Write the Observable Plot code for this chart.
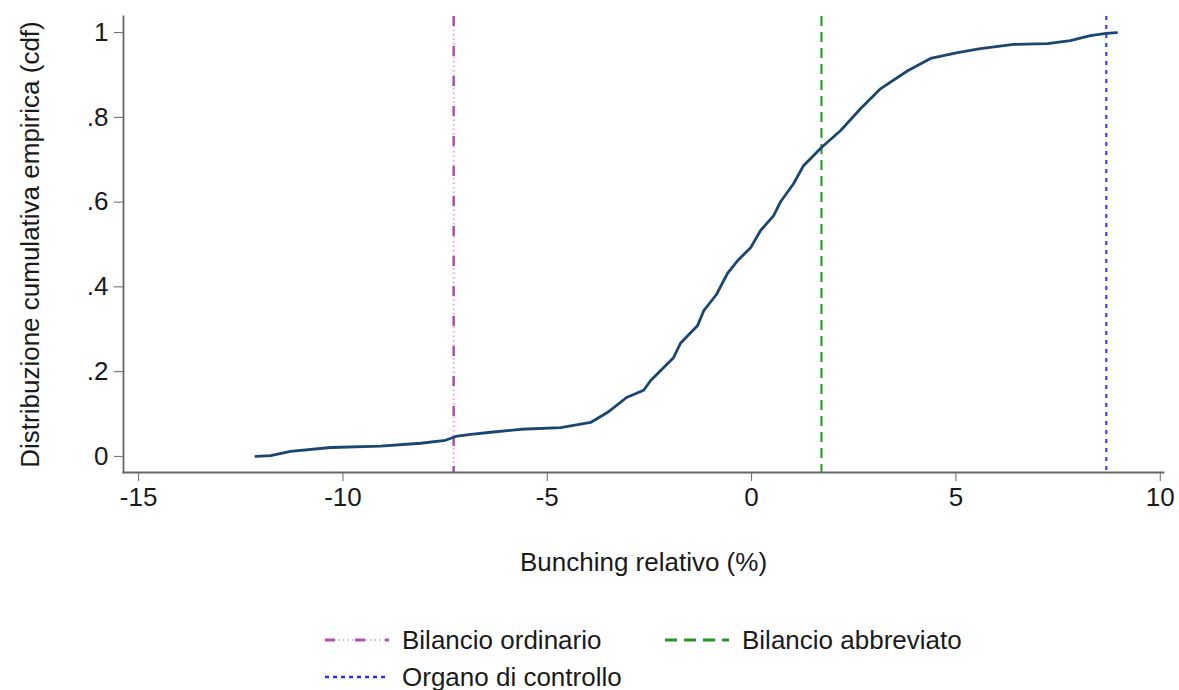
<!DOCTYPE html>
<html><head><meta charset="utf-8">
<script src="https://cdn.jsdelivr.net/npm/d3@7"></script>
<script src="https://cdn.jsdelivr.net/npm/@observablehq/plot@0.6"></script>
<style>
body{margin:0;background:#fff;font-family:"Liberation Sans",Arial,sans-serif;}
#chart{width:1179px;height:600px;}
#legend{position:relative;width:1179px;height:90px;font-size:26px;color:#1a1a1a;}
.item{position:absolute;display:flex;align-items:center;height:30px;white-space:nowrap;}
.item svg{margin-right:13px;}
</style></head><body>
<div id="chart"></div>
<div id="legend"></div>
<script>
const bunching = [-12.13,-11.77,-11.28,-10.30,-9.08,-8.10,-7.49,-7.24,-6.87,-6.38,-5.65,-4.67,-3.94,-3.52,-3.06,-2.64,-2.47,-1.91,-1.74,-1.32,-1.17,-0.86,-0.59,-0.34,-0.02,0.22,0.54,0.71,1.03,1.27,1.71,2.18,2.67,3.16,3.82,4.38,5.04,5.60,6.41,7.24,7.80,8.29,8.68,8.93];
const cdf = [0.000,0.002,0.012,0.021,0.024,0.031,0.038,0.047,0.052,0.057,0.064,0.068,0.080,0.104,0.139,0.156,0.179,0.233,0.267,0.309,0.344,0.382,0.432,0.462,0.493,0.533,0.568,0.601,0.644,0.686,0.729,0.769,0.821,0.868,0.910,0.939,0.953,0.962,0.972,0.974,0.981,0.993,0.998,1.000];

// Reference thresholds
const refNames = ["Bilancio ordinario","Bilancio abbreviato","Organo di controllo"];
const refValues = [-7.29, 1.71, 8.68];

const xTicks = [-15,-10,-5,0,5,10];
const xTickLabels = ["-15","-10","-5","0","5","10"];
const yTicks = [0,0.2,0.4,0.6,0.8,1];
const yTickLabels = ["0",".2",".4",".6",".8","1"];
const xLabel = "Bunching relativo (%)";
const yLabel = "Distribuzione cumulativa empirica (cdf)";

const data = bunching.map((x,i)=>({x, y:cdf[i]}));

const plot = Plot.plot({
  width:1179, height:600,
  marginLeft:123, marginRight:16, marginTop:16, marginBottom:128,
  style:{fontFamily:"'Liberation Sans', Arial, sans-serif", fontSize:"26px", color:"#1a1a1a", background:"#fff", overflow:"visible"},
  x:{domain:[-15.37,10.08]},
  y:{domain:[-0.038,1.038]},
  marks:[
    Plot.ruleX([refValues[0]], {stroke:"#e2a8e4", strokeWidth:2, strokeDasharray:"1.5,3"}),
    Plot.ruleX([refValues[0]], {stroke:"#b04cb2", strokeWidth:2.5, strokeDasharray:"10,20"}),
    Plot.ruleX([refValues[1]], {stroke:"#1f9a1f", strokeWidth:2, strokeDasharray:"10,6"}),
    Plot.ruleX([refValues[2]], {stroke:"#2b2bff", strokeWidth:2, strokeDasharray:"4,5"}),
    Plot.line(data, {x:"x", y:"y", stroke:"#1a476f", strokeWidth:2.8}),
    Plot.frame({anchor:"left", stroke:"#666", strokeWidth:1.8}),
    Plot.frame({anchor:"bottom", stroke:"#666", strokeWidth:1.8}),
    Plot.axisX({ticks:xTicks, tickFormat:d=>xTickLabels[xTicks.indexOf(d)], tickSize:9, tickPadding:6, stroke:"#666", label:xLabel, labelAnchor:"center", labelArrow:"none", labelOffset:98, fontSize:26}),
    Plot.axisY({ticks:yTicks, tickFormat:d=>yTickLabels[yTicks.indexOf(d)], tickSize:9, tickPadding:6, stroke:"#666", label:yLabel, labelAnchor:"center", labelArrow:"none", labelOffset:103, fontSize:26})
  ]
});
document.getElementById("chart").appendChild(plot);

// Legend
const legendItems = [
  {name:refNames[0], left:325, top:25, draw:[{c:"#e2a8e4",w:2,d:"1.5,3"},{c:"#b04cb2",w:3,d:"10,20"}]},
  {name:refNames[1], left:665, top:25, draw:[{c:"#1f9a1f",w:3,d:"12,7"}]},
  {name:refNames[2], left:325, top:62, draw:[{c:"#2b2bff",w:2.5,d:"4,4"}]}
];
const leg = d3.select("#legend");
for (const it of legendItems) {
  const div = leg.append("div").attr("class","item").style("left",it.left+"px").style("top",it.top+"px");
  const s = div.append("svg").attr("width",64).attr("height",10);
  for (const p of it.draw) {
    s.append("line").attr("x1",0).attr("x2",64).attr("y1",5).attr("y2",5)
      .attr("stroke",p.c).attr("stroke-width",p.w).attr("stroke-dasharray",p.d);
  }
  div.append("span").text(it.name);
}
</script>
</body></html>
